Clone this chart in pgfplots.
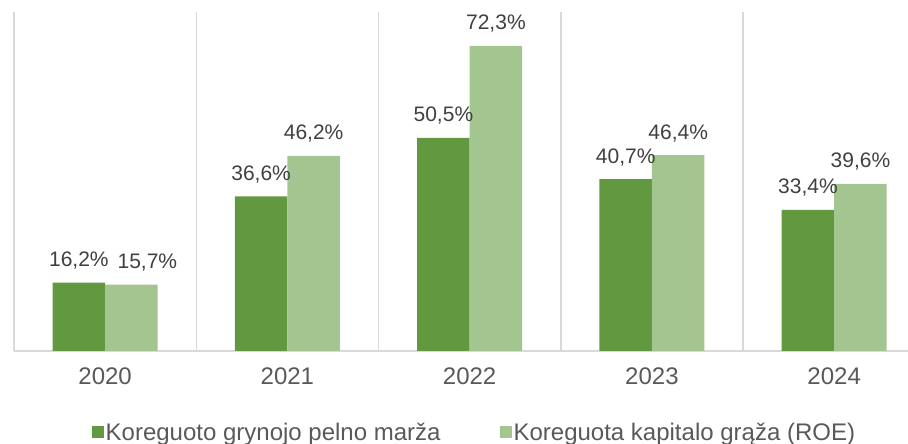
\documentclass[border=0pt]{standalone}
\usepackage{pgfplots}
\pgfplotsset{compat=1.18}
\usepackage{fontspec}
\setmainfont{Liberation Sans}
\definecolor{dkgreen}{HTML}{62983F}
\definecolor{ltgreen}{HTML}{A3C590}
\definecolor{gridgray}{HTML}{D9D9D9}
\definecolor{txtgray}{HTML}{404040}
\definecolor{tickgray}{HTML}{595959}
\begin{document}
\begin{tikzpicture}
\begin{axis}[
  at={(14pt,93pt)}, anchor=south west,
  scale only axis, width=894pt, height=339pt,
  xmin=-0.5, xmax=4.405, ymin=0, ymax=80.3,
  ybar=0pt, bar width=52.5pt,
  axis x line*=bottom, axis y line*=left,
  axis line style={draw=gridgray, line width=1.5pt, -},
  xtick={0,1,2,3,4},
  xticklabels={2020,2021,2022,2023,2024},
  ytick=\empty,
  major tick length=0pt,
  extra x ticks={0.5,1.5,2.5,3.5},
  extra x tick labels={},
  extra x tick style={grid=major, major grid style={draw=gridgray, line width=1.5pt}},
  xticklabel style={font=\fontsize{24}{28}\selectfont, text=tickgray, yshift=-13pt},
  /pgf/number format/assume math mode=true,
  nodes near coords={\pgfmathprintnumber[fixed,fixed zerofill,precision=1,use comma]{\pgfplotspointmeta}\%},
  every node near coord/.append style={font=\fontsize{21}{25}\selectfont, text=txtgray, anchor=base, yshift=16pt},
  legend columns=2,
  legend style={at={(0.515,-0.239)}, anchor=center, draw=none, fill=none,
    font=\fontsize{24}{28}\selectfont, text=tickgray,
    nodes={inner sep=2pt},
    /tikz/every even column/.append style={column sep=57pt},
    inner sep=0pt},
  legend image code/.code={\fill[#1] (0pt,-6pt) rectangle (12pt,6pt);},
]
\addplot[fill=dkgreen, draw=none] coordinates {(0,16.2) (1,36.6) (2,50.5) (3,40.7) (4,33.4)};
\addlegendentry{Koreguoto grynojo pelno marža}
\addplot[fill=ltgreen, draw=none,
  visualization depends on={value \coordindex \as \myidx},
  every node near coord/.append style={xshift={(\myidx==0)*16pt}}]
  coordinates {(0,15.7) (1,46.2) (2,72.3) (3,46.4) (4,39.6)};
\addlegendentry{Koreguota kapitalo grąža (ROE)}
\end{axis}
\pgfresetboundingbox
\path[use as bounding box] (0,0) rectangle (908pt,444pt);
\end{tikzpicture}
\end{document}
